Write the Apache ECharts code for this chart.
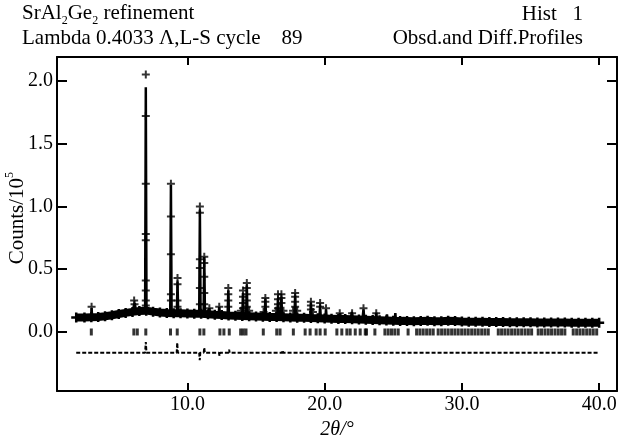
<!DOCTYPE html>
<html>
<head>
<meta charset="utf-8">
<script src="https://cdn.jsdelivr.net/npm/echarts@6/dist/echarts.min.js"></script>
<style>html,body{margin:0;padding:0;background:#fff}#c{width:620px;height:440px}</style>
</head>
<body>
<div id="c"></div>
<script>
// ---- data ----
const xTicks = [10, 20, 30, 40];
const yTicks = [0, 0.5, 1.0, 1.5, 2.0];

// observed dense band (baseline of the observed profile)
const bandX = [1.9,2.5,3.0,3.5,4.0,4.5,5.0,5.5,6.0,6.5,7.0,7.5,8.0,8.5,9.0,9.5,10.0,10.5,11.0,11.5,12.0,12.5,13.0,13.5,14.0,14.5,15.0,15.5,16.0,16.5,17.0,17.5,18.0,18.5,19.0,19.5,20.0,20.5,21.0,21.5,22.0,22.5,23.0,23.5,24.0,24.5,25.0,25.5,26.0,26.5,27.0,27.5,28.0,28.5,29.0,29.5,30.0,30.5,31.0,31.5,32.0,32.5,33.0,33.5,34.0,34.5,35.0,35.5,36.0,36.5,37.0,37.5,38.0,38.5,39.0,39.5,40.0];
const bandY = [0.115,0.116,0.118,0.12,0.125,0.133,0.143,0.152,0.16,0.167,0.17,0.162,0.155,0.152,0.15,0.149,0.148,0.146,0.145,0.142,0.138,0.135,0.132,0.13,0.128,0.126,0.124,0.122,0.12,0.119,0.118,0.116,0.114,0.113,0.111,0.11,0.108,0.106,0.104,0.103,0.101,0.099,0.097,0.095,0.093,0.091,0.089,0.088,0.087,0.086,0.088,0.09,0.086,0.085,0.089,0.087,0.083,0.082,0.081,0.081,0.08,0.079,0.079,0.078,0.078,0.077,0.077,0.076,0.076,0.075,0.075,0.075,0.074,0.074,0.074,0.073,0.073];

// calculated profile (peak feet and tops)
const calcX = [1.9,2.98,3.02,3.06,6.02,6.1,6.17,6.25,6.92,6.97,7.02,8.75,8.8,8.85,9.23,9.28,9.33,10.86,10.91,10.96,11.18,11.23,11.28,11.55,11.6,11.65,12.27,12.32,12.37,12.93,12.98,13.03,14.0,14.05,14.1,14.28,14.33,14.38,15.63,15.68,15.73,16.55,16.6,16.65,16.8,16.85,16.9,17.8,17.85,17.9,18.95,19.0,19.05,19.62,19.67,19.72,20.05,20.1,20.15,21.05,21.13,21.2,21.9,21.98,22.05,22.75,22.83,22.9,23.7,23.76,23.82,24.48,24.54,24.6,25.1,25.15,25.2,25.7,25.75,25.8,40.0];
const calcY = [0.115,0.118,0.19,0.118,0.16,0.21,0.23,0.165,0.17,1.95,0.17,0.152,1.17,0.152,0.15,0.40,0.15,0.147,0.97,0.147,0.146,0.6,0.146,0.144,0.19,0.144,0.137,0.2,0.137,0.133,0.33,0.133,0.128,0.31,0.128,0.127,0.37,0.127,0.122,0.26,0.122,0.119,0.27,0.119,0.118,0.28,0.118,0.115,0.29,0.115,0.111,0.23,0.111,0.11,0.21,0.11,0.108,0.18,0.108,0.104,0.15,0.104,0.101,0.16,0.1,0.098,0.18,0.097,0.094,0.155,0.094,0.091,0.14,0.091,0.089,0.15,0.089,0.087,0.12,0.087,0.073];

// observed points on peaks (crosses)
const obsX = [3.02,6.12,6.15,6.97,6.97,6.97,6.97,6.97,6.97,6.97,6.97,6.97,8.8,8.8,8.8,8.8,8.8,9.28,9.28,9.28,9.28,10.91,10.91,10.91,10.91,10.91,10.91,11.23,11.23,11.23,11.23,11.23,11.6,12.32,12.98,12.98,12.98,12.98,14.05,14.05,14.05,14.05,14.33,14.33,14.33,14.33,14.33,15.68,15.68,15.68,16.6,16.6,16.6,16.6,16.85,16.85,16.85,17.85,17.85,17.85,17.85,19.0,19.0,19.0,19.67,19.67,20.1,22.83,13.9,14.5,16.45,17.0,17.7,18.0,19.15,15.55,21.1,22.0,23.76];
const obsY = [0.2,0.25,0.22,2.05,1.72,1.18,0.78,0.73,0.41,0.33,0.25,0.21,1.18,0.92,0.62,0.30,0.25,0.43,0.38,0.25,0.2,1.0,0.95,0.58,0.51,0.35,0.22,0.6,0.55,0.44,0.31,0.22,0.19,0.2,0.35,0.3,0.25,0.2,0.33,0.28,0.23,0.19,0.39,0.35,0.3,0.25,0.2,0.27,0.24,0.2,0.3,0.26,0.22,0.19,0.3,0.27,0.23,0.31,0.28,0.24,0.2,0.24,0.21,0.18,0.23,0.2,0.19,0.19,0.17,0.17,0.17,0.17,0.17,0.17,0.16,0.16,0.15,0.15,0.15];

// reflection positions
const reflX = [3.0,6.1,6.35,6.97,8.77,9.26,10.91,11.2,12.37,12.66,13.05,13.88,14.07,14.27,15.53,16.51,16.75,17.72,18.58,18.94,19.38,19.67,20.04,20.89,21.25,21.62,21.86,22.23,22.59,22.96,23.05,23.66,24.39,24.63,24.87,25.11,25.36,26.08,26.7,26.94,27.18,27.43,27.67,27.91,28.27,28.52,28.76,29.0,29.25,29.49,29.73,29.98,30.22,30.46,30.71,30.95,31.19,31.44,31.68,31.92,32.65,32.89,33.13,33.37,33.62,33.86,34.1,34.35,34.6,34.84,35.08,35.56,35.8,36.05,36.29,36.53,36.78,37.02,37.26,37.5,38.11,38.36,38.6,38.84,39.09,39.33,39.57,39.82];
const reflLevel = 0.0;

// difference curve
const diffX = [1.9,6.92,6.97,7.02,9.22,9.26,9.3,10.86,10.9,10.94,11.19,11.23,11.27,12.3,12.34,12.38,13.0,13.04,13.08,16.9,16.94,16.98,40.0];
const diffY = [-0.165,-0.165,-0.08,-0.165,-0.165,-0.085,-0.165,-0.165,-0.225,-0.165,-0.165,-0.125,-0.165,-0.165,-0.19,-0.165,-0.165,-0.14,-0.165,-0.165,-0.145,-0.165,-0.165];

// ---- chart ----
const zip = (xs, ys) => xs.map((x, i) => [x, ys[i]]);
const FONT = '"Liberation Serif", "Times New Roman", serif';
const cross = 'path://M3,0H5V3H8V5H5V8H3V5H0V3H3Z';
const axisLine = {show: true, onZero: false, lineStyle: {color: '#000', width: 2}};
const tickStyle = {color: '#000', width: 2};

const chart = echarts.init(document.getElementById('c'), null, {renderer: 'canvas'});
chart.setOption({
  animation: false,
  backgroundColor: '#fff',
  grid: {left: 57, right: 3, top: 57, bottom: 49, containLabel: false, outerBoundsMode: 'none'},
  graphic: [
    {type: 'text', left: 22, top: 3, style: {
      text: '{a|SrAl}{s|2}{a|Ge}{s|2}{a| refinement}', fill: '#000',
      rich: {a: {fontFamily: FONT, fontSize: 21, lineHeight: 24, verticalAlign: 'bottom'},
             s: {fontFamily: FONT, fontSize: 12, lineHeight: 24, verticalAlign: 'bottom', padding: [0, 0, -3, 0]}}}},
    {type: 'text', right: 37, top: 4, style: {text: 'Hist   1', fill: '#000', font: '21px ' + FONT}},
    {type: 'text', left: 22, top: 28, style: {text: 'Lambda 0.4033 \u039B,L-S cycle    89', fill: '#000', font: '21px ' + FONT}},
    {type: 'text', right: 37, top: 28, style: {text: 'Obsd.and Diff.Profiles', fill: '#000', font: '21px ' + FONT}},
    {type: 'text', left: 4, top: 172, rotation: Math.PI / 2, style: {
      text: '{a|Counts/10}{s|5}', fill: '#000',
      rich: {a: {fontFamily: FONT, fontSize: 21, lineHeight: 24, verticalAlign: 'bottom'},
             s: {fontFamily: FONT, fontSize: 12, lineHeight: 24, verticalAlign: 'top'}}}}
  ],
  xAxis: [
    {type: 'value', position: 'bottom', min: 0.5, max: 41.3,
     axisLine: axisLine,
     axisTick: {show: true, inside: true, length: 8, lineStyle: tickStyle, customValues: xTicks},
     axisLabel: {show: true, customValues: xTicks, formatter: v => v.toFixed(1), color: '#000', fontFamily: FONT, fontSize: 20, margin: 4},
     splitLine: {show: false},
     name: '{i|2\u03B8}{n|/\u00B0}', nameLocation: 'middle', nameGap: 25,
     nameTextStyle: {rich: {i: {fontFamily: FONT, fontSize: 20, fontStyle: 'italic', color: '#000'},
                            n: {fontFamily: FONT, fontSize: 20, fontStyle: 'italic', color: '#000'}}}},
    {type: 'value', position: 'top', min: 0.5, max: 41.3,
     axisLine: axisLine,
     axisTick: {show: true, inside: true, length: 8, lineStyle: tickStyle, customValues: xTicks},
     axisLabel: {show: false}, splitLine: {show: false}}
  ],
  yAxis: [
    {type: 'value', position: 'left', min: -0.47, max: 2.19,
     axisLine: axisLine,
     axisTick: {show: true, inside: true, length: 10, lineStyle: tickStyle, customValues: yTicks},
     axisLabel: {show: true, customValues: yTicks, formatter: v => v.toFixed(1), color: '#000', fontFamily: FONT, fontSize: 20, margin: 4},
     splitLine: {show: false}},
    {type: 'value', position: 'right', min: -0.47, max: 2.19,
     axisLine: axisLine,
     axisTick: {show: true, inside: true, length: 10, lineStyle: tickStyle, customValues: yTicks},
     axisLabel: {show: false}, splitLine: {show: false}}
  ],
  series: [
    {name: 'band', type: 'line', data: zip(bandX, bandY), showSymbol: true, showAllSymbol: true,
     symbol: cross, symbolSize: 10, itemStyle: {color: '#000'},
     lineStyle: {color: '#000', width: 8}, silent: true, z: 2},
    {name: 'calc', type: 'line', data: zip(calcX, calcY), showSymbol: false,
     lineStyle: {color: '#000', width: 2.5}, silent: true, z: 3},
    {name: 'obs', type: 'scatter', data: zip(obsX, obsY), symbol: cross, symbolSize: 8,
     itemStyle: {color: '#000'}, silent: true, z: 4},
    {name: 'refl', type: 'scatter', data: reflX.map(x => [x, reflLevel]), symbol: 'rect', symbolSize: [3, 7],
     itemStyle: {color: '#000'}, silent: true, z: 3},
    {name: 'diff', type: 'line', data: zip(diffX, diffY), showSymbol: false,
     lineStyle: {color: '#000', width: 2, type: [4, 2]}, silent: true, z: 3}
  ]
});
</script>
</body>
</html>
